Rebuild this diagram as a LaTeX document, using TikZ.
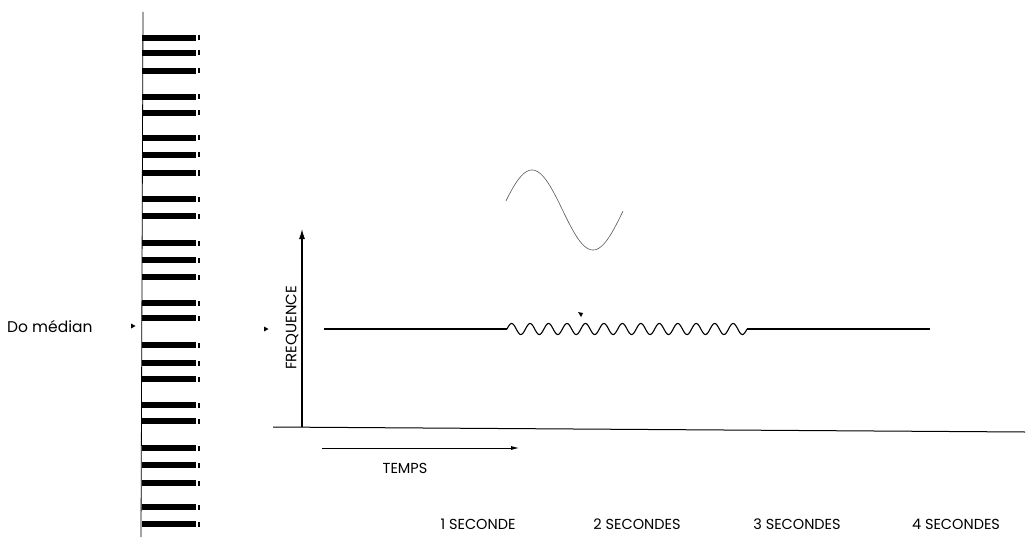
\documentclass[tikz,border=0pt]{standalone}
\usepackage{fontspec}
\setmainfont{Poppins}
\usetikzlibrary{arrows.meta}
\begin{document}
\begin{tikzpicture}[x=1pt,y=-1pt,
  blackkey/.style={fill=black},
  keytick/.style={fill=black},
  axisline/.style={line width=1.1pt},
  sigline/.style={line width=1.1pt},
  lbl/.style={font=\fontsize{14.5}{16}\selectfont, inner sep=0pt},
  marker/.style={fill=black}]
\useasboundingbox (0,0) rectangle (1032,548);
\fill[white] (0,0) rectangle (1032,548);
% keyboard
\coordinate (kbtop) at (143,12);
\coordinate (kbbot) at (141,537);
\draw[line width=0.8pt] (kbtop) -- (kbbot);
\foreach \y in {38,53,71,97,113,138,155,173,199,216,243,260,277,303,318,345,363,379,405,421,448,465,483,507,524}{
  \fill[blackkey] (142,\y-3.3) rectangle (196,\y+3.3);
  \fill[keytick] (198,\y-2.5) rectangle (199.8,\y+2.5);
}
% Do median
\node[lbl, font=\fontsize{15.5}{17}\selectfont, anchor=west] (do) at (7,327) {Do médian};
\fill[marker] (131,323.5) -- (135.5,326) -- (131,328.5) -- cycle;
% axes
\coordinate (O) at (302,427);
\coordinate (ytop) at (302,229);
\coordinate (xl) at (273,427);
\coordinate (xr) at (1025,432);
\draw[line width=1pt] (xl) -- (xr);
\draw[axisline,-{Latex[length=10pt,width=6pt]}] (O) -- (ytop);
\node[lbl, font=\fontsize{15}{17}\selectfont, rotate=90] (freq) at (292,328) {FREQUENCE};
\fill[marker] (264,326.5) -- (268.5,329) -- (264,331.5) -- cycle;
% signal
\coordinate (s0) at (324,329);
\coordinate (w0) at (507,329);
\coordinate (w1) at (747,329);
\coordinate (s1) at (930,329);
\draw[sigline] (s0) -- (w0);
\draw[sigline, domain=0:240, samples=500, variable=\t] plot ({507+\t},{329-5.5*sin(19.5*\t)});
\draw[sigline] (w1) -- (s1);
\fill[marker] (578,312) -- (583,313) -- (581,317) -- cycle;
% single sine
\draw[line width=0.6pt, black!65, domain=506:623, samples=120, variable=\x] plot (\x,{210-40*sin((\x-501.5)*2.9508)});
% temps arrow
\coordinate (t0) at (322,448);
\coordinate (t1) at (519,448);
\draw[line width=0.8pt,-{Latex[length=8pt,width=4pt]}] (t0) -- (t1);
\node[lbl] (temps) at (405,468) {TEMPS};
% time labels
\node[lbl] (s1l) at (478,524) {1 SECONDE};
\node[lbl] (s2l) at (637,524) {2 SECONDES};
\node[lbl] (s3l) at (797,524) {3 SECONDES};
\node[lbl] (s4l) at (956,524) {4 SECONDES};
\end{tikzpicture}
\end{document}
